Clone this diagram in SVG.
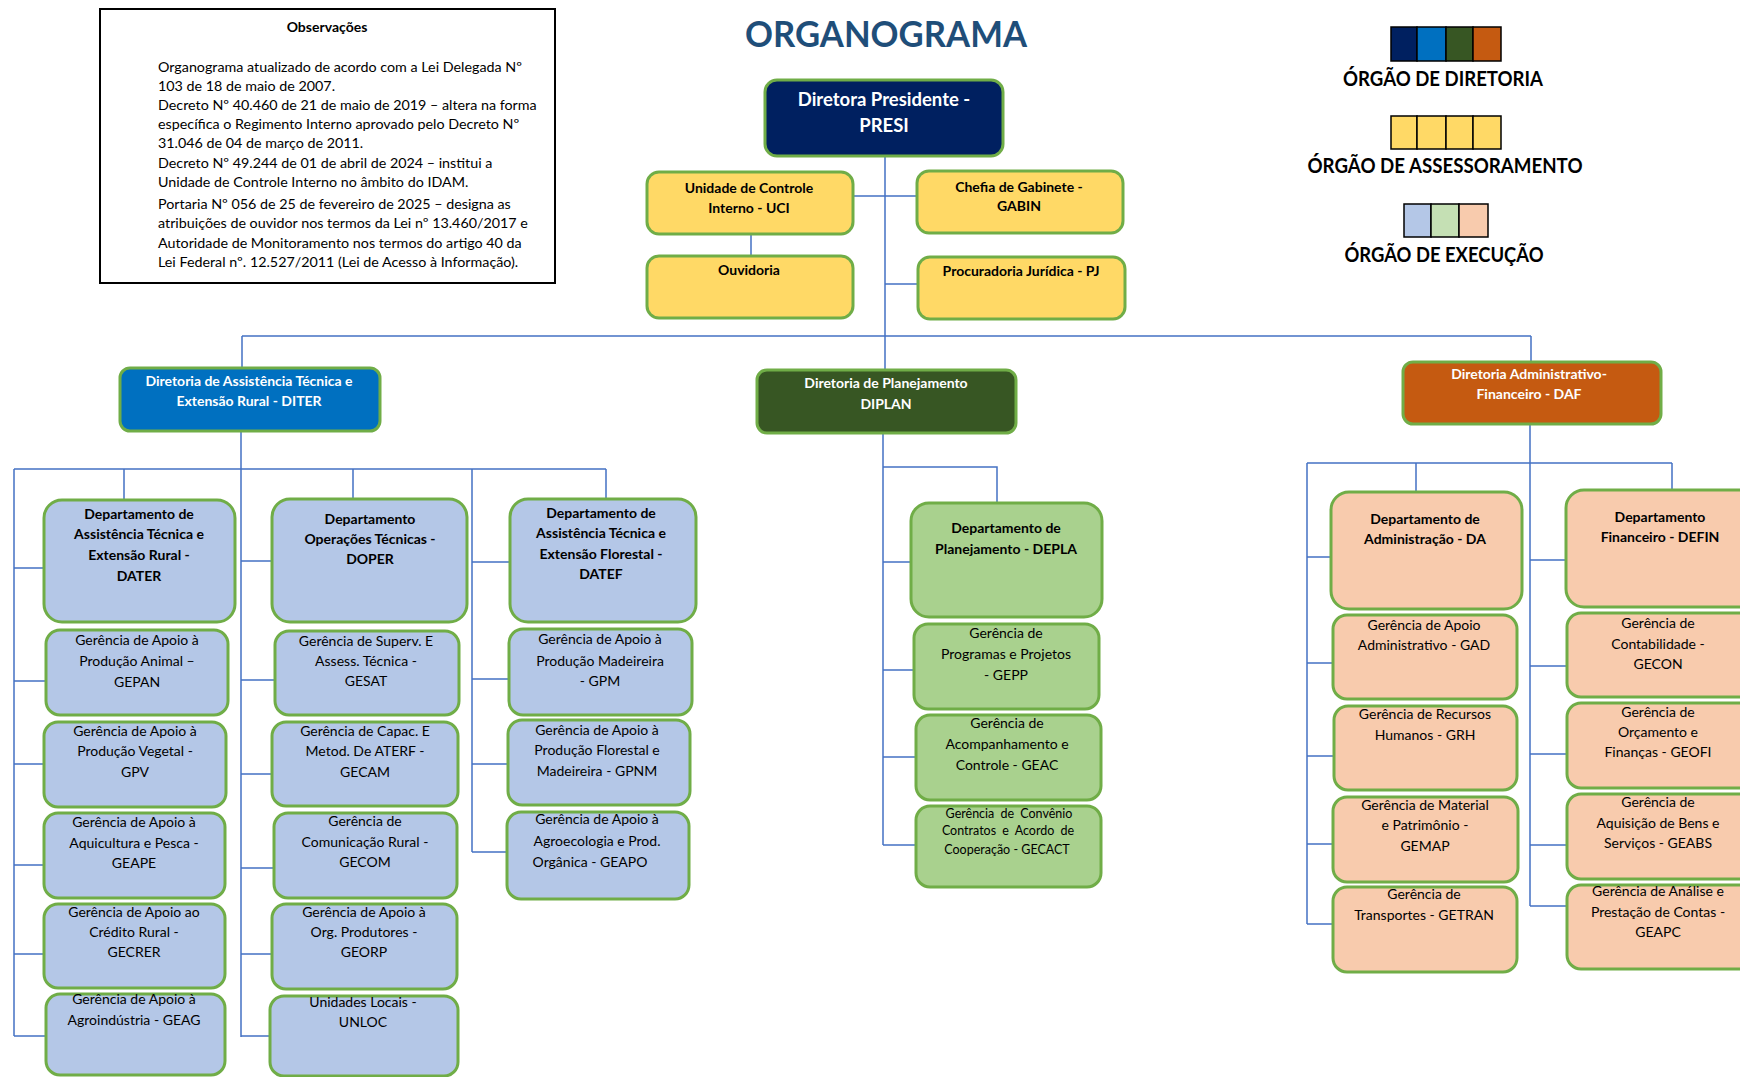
<svg xmlns="http://www.w3.org/2000/svg" width="1740" height="1077" viewBox="0 0 1740 1077">
<style>
.bx{stroke:#70AD47;stroke-width:3}
.y{fill:#FFD966}.b{fill:#B4C7E7}.g{fill:#A9D18E}.p{fill:#F8CBAD}
.t{font-family:Lato,'Liberation Sans',sans-serif;font-size:14px;fill:#000;text-anchor:middle}
.tb{font-family:Lato,'Liberation Sans',sans-serif;font-size:14px;font-weight:bold;fill:#000;text-anchor:middle}
.tw{font-family:Lato,'Liberation Sans',sans-serif;font-size:14px;font-weight:bold;fill:#fff;text-anchor:middle}
.obs{font-family:Lato,'Liberation Sans',sans-serif;font-size:14.3px;fill:#000}
.leg{font-family:Lato,'Liberation Sans',sans-serif;font-size:20px;font-weight:bold;fill:#000;text-anchor:middle}
.sq{stroke:#000;stroke-width:1.5}
.c{stroke:#4472C4;stroke-width:1.5;fill:none}
</style>
<rect width="1740" height="1077" fill="#fff"/>

<g id="observacoes">
<rect x="100" y="9" width="455" height="274" fill="#fff" stroke="#000" stroke-width="2"/>
<text class="tb" x="327" y="32">Observações</text>
<text class="obs">
<tspan x="158" y="72">Organograma atualizado de acordo com a Lei Delegada Nº</tspan>
<tspan x="158" y="91">103 de 18 de maio de 2007.</tspan>
<tspan x="158" y="110">Decreto Nº 40.460 de 21 de maio de 2019 – altera na forma</tspan>
<tspan x="158" y="129">específica o Regimento Interno aprovado pelo Decreto Nº</tspan>
<tspan x="158" y="148">31.046 de 04 de março de 2011.</tspan>
<tspan x="158" y="168">Decreto Nº 49.244 de 01 de abril de 2024 – institui a</tspan>
<tspan x="158" y="187">Unidade de Controle Interno no âmbito do IDAM.</tspan>
<tspan x="158" y="209">Portaria Nº 056 de 25 de fevereiro de 2025 – designa as</tspan>
<tspan x="158" y="228">atribuições de ouvidor nos termos da Lei nº 13.460/2017 e</tspan>
<tspan x="158" y="248">Autoridade de Monitoramento nos termos do artigo 40 da</tspan>
<tspan x="158" y="267">Lei Federal nº. 12.527/2011 (Lei de Acesso à Informação).</tspan>
</text>
</g>

<text id="titulo" x="886" y="47" font-family="Lato,'Liberation Sans',sans-serif" font-size="37" font-weight="bold" fill="#1F4E79" text-anchor="middle" textLength="282" lengthAdjust="spacingAndGlyphs">ORGANOGRAMA</text>

<g id="legenda">
<rect class="sq" x="1391" y="27" width="26" height="34" fill="#002060"/>
<rect class="sq" x="1417" y="27" width="29" height="34" fill="#0070C0"/>
<rect class="sq" x="1446" y="27" width="27" height="34" fill="#375623"/>
<rect class="sq" x="1473" y="27" width="28" height="34" fill="#C55A11"/>
<text class="leg" x="1443" y="86" textLength="200" lengthAdjust="spacingAndGlyphs">ÓRGÃO DE DIRETORIA</text>
<rect class="sq" x="1391" y="116" width="26" height="33" fill="#FFD966"/>
<rect class="sq" x="1417" y="116" width="29" height="33" fill="#FFD966"/>
<rect class="sq" x="1446" y="116" width="27" height="33" fill="#FFD966"/>
<rect class="sq" x="1473" y="116" width="28" height="33" fill="#FFD966"/>
<text class="leg" x="1445" y="173" textLength="275" lengthAdjust="spacingAndGlyphs">ÓRGÃO DE ASSESSORAMENTO</text>
<rect class="sq" x="1404" y="204" width="27" height="33" fill="#B4C7E7"/>
<rect class="sq" x="1431" y="204" width="28" height="33" fill="#C5E0B4"/>
<rect class="sq" x="1459" y="204" width="29" height="33" fill="#F8CBAD"/>
<text class="leg" x="1444" y="262" textLength="199" lengthAdjust="spacingAndGlyphs">ÓRGÃO DE EXECUÇÃO</text>
</g>

<g id="conectores">
<path class="c" d="M885 156V370M853 196H917M751 234V256M885 284H918M242 336H1531M242 336V368M1531 336V362"/>
<path class="c" d="M241 431V1037M14 469H606M14 469V1036M124 469V500M353 469V499M472 469V852M606 469V499"/>
<path class="c" d="M14 568H44M14 681H46M14 764H44M14 865H44M14 954H44M14 1036H46"/>
<path class="c" d="M241 561H272M241 680H275M241 774H272M241 868H274M241 954H272M241 1036H270"/>
<path class="c" d="M472 562H510M472 679H509M472 764H508M472 852H507"/>
<path class="c" d="M883 433V845M883 467H997V503M883 562H911M883 670H914M883 757H916M883 845H916"/>
<path class="c" d="M1530 424V906M1307 463H1672M1416 463V492M1672 463V490M1307 463V924"/>
<path class="c" d="M1307 557H1331M1307 663H1333M1307 756H1334M1307 844H1333M1307 924H1333"/>
<path class="c" d="M1530 560H1566M1530 666H1567M1530 754H1567M1530 845H1567M1530 906H1567"/>
</g>

<g id="presi"><rect class="bx" x="765" y="80" width="238" height="76" rx="12" fill="#002060"/>
<text class="tw" style="font-size:18.5px"><tspan x="884" y="106">Diretora Presidente -</tspan><tspan x="884" y="132">PRESI</tspan></text></g>
<g id="uci"><rect class="bx y" x="647" y="172" width="206" height="62" rx="12"/>
<text class="tb"><tspan x="749" y="193">Unidade de Controle</tspan><tspan x="749" y="213">Interno - UCI</tspan></text></g>
<g id="gabin"><rect class="bx y" x="917" y="171" width="206" height="62" rx="12"/>
<text class="tb"><tspan x="1019" y="192">Chefia de Gabinete -</tspan><tspan x="1019" y="211">GABIN</tspan></text></g>
<g id="ouvidoria"><rect class="bx y" x="647" y="256" width="206" height="62" rx="12"/>
<text class="tb"><tspan x="749" y="275">Ouvidoria</tspan></text></g>
<g id="pj"><rect class="bx y" x="918" y="257" width="207" height="62" rx="12"/>
<text class="tb"><tspan x="1021" y="276">Procuradoria Jurídica - PJ</tspan></text></g>

<g id="diter"><rect class="bx" x="120" y="368" width="260" height="63" rx="10" fill="#0070C0"/>
<text class="tw"><tspan x="249" y="386">Diretoria de Assistência Técnica e</tspan><tspan x="249" y="406">Extensão Rural - DITER</tspan></text></g>
<g id="diplan"><rect class="bx" x="757" y="370" width="259" height="63" rx="10" fill="#375623"/>
<text class="tw"><tspan x="886" y="388">Diretoria de Planejamento</tspan><tspan x="886" y="409">DIPLAN</tspan></text></g>
<g id="daf"><rect class="bx" x="1403" y="362" width="258" height="62" rx="10" fill="#C55A11"/>
<text class="tw"><tspan x="1529" y="379">Diretoria Administrativo-</tspan><tspan x="1529" y="399">Financeiro - DAF</tspan></text></g>

<g id="dater"><rect class="bx b" x="44" y="500" width="191" height="122" rx="18"/>
<text class="tb"><tspan x="139" y="519">Departamento de</tspan><tspan x="139" y="539">Assistência Técnica e</tspan><tspan x="139" y="560">Extensão Rural -</tspan><tspan x="139" y="581">DATER</tspan></text></g>
<g id="doper"><rect class="bx b" x="272" y="499" width="195" height="123" rx="18"/>
<text class="tb"><tspan x="370" y="524">Departamento</tspan><tspan x="370" y="544">Operações Técnicas -</tspan><tspan x="370" y="564">DOPER</tspan></text></g>
<g id="datef"><rect class="bx b" x="510" y="499" width="186" height="123" rx="18"/>
<text class="tb"><tspan x="601" y="518">Departamento de</tspan><tspan x="601" y="538">Assistência Técnica e</tspan><tspan x="601" y="559">Extensão Florestal -</tspan><tspan x="601" y="579">DATEF</tspan></text></g>

<g id="gepan"><rect class="bx b" x="46" y="630" width="182" height="85" rx="14"/>
<text class="t"><tspan x="137" y="645">Gerência de Apoio à</tspan><tspan x="137" y="666">Produção Animal –</tspan><tspan x="137" y="687">GEPAN</tspan></text></g>
<g id="gpv"><rect class="bx b" x="44" y="722" width="182" height="85" rx="14"/>
<text class="t"><tspan x="135" y="736">Gerência de Apoio à</tspan><tspan x="135" y="756">Produção Vegetal -</tspan><tspan x="135" y="777">GPV</tspan></text></g>
<g id="geape"><rect class="bx b" x="44" y="813" width="181" height="85" rx="14"/>
<text class="t"><tspan x="134" y="827">Gerência de Apoio à</tspan><tspan x="134" y="848">Aquicultura e Pesca -</tspan><tspan x="134" y="868">GEAPE</tspan></text></g>
<g id="gecrer"><rect class="bx b" x="44" y="904" width="181" height="84" rx="14"/>
<text class="t"><tspan x="134" y="917">Gerência de Apoio ao</tspan><tspan x="134" y="937">Crédito Rural -</tspan><tspan x="134" y="957">GECRER</tspan></text></g>
<g id="geag"><rect class="bx b" x="46" y="994" width="179" height="81" rx="14"/>
<text class="t"><tspan x="134" y="1004">Gerência de Apoio à</tspan><tspan x="134" y="1025">Agroindústria - GEAG</tspan></text></g>

<g id="gesat"><rect class="bx b" x="275" y="631" width="184" height="84" rx="14"/>
<text class="t"><tspan x="366" y="646">Gerência de Superv. E</tspan><tspan x="366" y="666">Assess. Técnica -</tspan><tspan x="366" y="686">GESAT</tspan></text></g>
<g id="gecam"><rect class="bx b" x="272" y="722" width="186" height="84" rx="14"/>
<text class="t"><tspan x="365" y="736">Gerência de Capac. E</tspan><tspan x="365" y="756">Metod. De ATERF -</tspan><tspan x="365" y="777">GECAM</tspan></text></g>
<g id="gecom"><rect class="bx b" x="274" y="813" width="183" height="85" rx="14"/>
<text class="t"><tspan x="365" y="826">Gerência de</tspan><tspan x="365" y="847">Comunicação Rural -</tspan><tspan x="365" y="867">GECOM</tspan></text></g>
<g id="georp"><rect class="bx b" x="272" y="904" width="185" height="85" rx="14"/>
<text class="t"><tspan x="364" y="917">Gerência de Apoio à</tspan><tspan x="364" y="937">Org. Produtores -</tspan><tspan x="364" y="957">GEORP</tspan></text></g>
<g id="unloc"><rect class="bx b" x="270" y="996" width="188" height="80" rx="14"/>
<text class="t"><tspan x="363" y="1007">Unidades Locais -</tspan><tspan x="363" y="1027">UNLOC</tspan></text></g>

<g id="gpm"><rect class="bx b" x="509" y="629" width="183" height="86" rx="14"/>
<text class="t"><tspan x="600" y="644">Gerência de Apoio à</tspan><tspan x="600" y="666">Produção Madeireira</tspan><tspan x="600" y="686">- GPM</tspan></text></g>
<g id="gpnm"><rect class="bx b" x="508" y="720" width="182" height="85" rx="14"/>
<text class="t"><tspan x="597" y="735">Gerência de Apoio à</tspan><tspan x="597" y="755">Produção Florestal e</tspan><tspan x="597" y="776">Madeireira - GPNM</tspan></text></g>
<g id="geapo"><rect class="bx b" x="507" y="812" width="182" height="87" rx="14"/>
<text class="t"><tspan x="597" y="824">Gerência de Apoio à</tspan><tspan x="597" y="846">Agroecologia e Prod.</tspan><tspan x="590" y="867">Orgânica - GEAPO</tspan></text></g>

<g id="depla"><rect class="bx g" x="911" y="503" width="191" height="114" rx="18"/>
<text class="tb"><tspan x="1006" y="533">Departamento de</tspan><tspan x="1006" y="554">Planejamento - DEPLA</tspan></text></g>
<g id="gepp"><rect class="bx g" x="914" y="624" width="185" height="85" rx="14"/>
<text class="t"><tspan x="1006" y="638">Gerência de</tspan><tspan x="1006" y="659">Programas e Projetos</tspan><tspan x="1006" y="680">- GEPP</tspan></text></g>
<g id="geac"><rect class="bx g" x="916" y="715" width="185" height="85" rx="14"/>
<text class="t"><tspan x="1007" y="728">Gerência de</tspan><tspan x="1007" y="749">Acompanhamento e</tspan><tspan x="1007" y="770">Controle - GEAC</tspan></text></g>
<g id="gecact"><rect class="bx g" x="916" y="806" width="185" height="81" rx="14"/>
<text class="t" style="font-size:12.5px"><tspan x="1009" y="818" word-spacing="3">Gerência de Convênio</tspan><tspan x="1008" y="835" word-spacing="3">Contratos e Acordo de</tspan><tspan x="1007" y="854">Cooperação - GECACT</tspan></text></g>

<g id="da"><rect class="bx p" x="1331" y="492" width="191" height="117" rx="18"/>
<text class="tb"><tspan x="1425" y="524">Departamento de</tspan><tspan x="1425" y="544">Administração - DA</tspan></text></g>
<g id="defin"><rect class="bx p" x="1566" y="490" width="190" height="117" rx="18"/>
<text class="tb"><tspan x="1660" y="522">Departamento</tspan><tspan x="1660" y="542">Financeiro - DEFIN</tspan></text></g>
<g id="gad"><rect class="bx p" x="1333" y="615" width="184" height="84" rx="14"/>
<text class="t"><tspan x="1424" y="630">Gerência de Apoio</tspan><tspan x="1424" y="650">Administrativo - GAD</tspan></text></g>
<g id="grh"><rect class="bx p" x="1334" y="706" width="183" height="84" rx="14"/>
<text class="t"><tspan x="1425" y="719">Gerência de Recursos</tspan><tspan x="1425" y="740">Humanos - GRH</tspan></text></g>
<g id="gemap"><rect class="bx p" x="1333" y="797" width="185" height="85" rx="14"/>
<text class="t"><tspan x="1425" y="810">Gerência de Material</tspan><tspan x="1425" y="830">e Patrimônio -</tspan><tspan x="1425" y="851">GEMAP</tspan></text></g>
<g id="getran"><rect class="bx p" x="1333" y="887" width="184" height="85" rx="14"/>
<text class="t"><tspan x="1424" y="899">Gerência de</tspan><tspan x="1424" y="920">Transportes - GETRAN</tspan></text></g>
<g id="gecon"><rect class="bx p" x="1567" y="613" width="190" height="84" rx="14"/>
<text class="t"><tspan x="1658" y="628">Gerência de</tspan><tspan x="1658" y="649">Contabilidade -</tspan><tspan x="1658" y="669">GECON</tspan></text></g>
<g id="geofi"><rect class="bx p" x="1567" y="703" width="190" height="85" rx="14"/>
<text class="t"><tspan x="1658" y="717">Gerência de</tspan><tspan x="1658" y="737">Orçamento e</tspan><tspan x="1658" y="757">Finanças - GEOFI</tspan></text></g>
<g id="geabs"><rect class="bx p" x="1567" y="794" width="190" height="85" rx="14"/>
<text class="t"><tspan x="1658" y="807">Gerência de</tspan><tspan x="1658" y="828">Aquisição de Bens e</tspan><tspan x="1658" y="848">Serviços - GEABS</tspan></text></g>
<g id="geapc"><rect class="bx p" x="1567" y="885" width="190" height="84" rx="14"/>
<text class="t"><tspan x="1658" y="896">Gerência de Análise e</tspan><tspan x="1658" y="917">Prestação de Contas -</tspan><tspan x="1658" y="937">GEAPC</tspan></text></g>
</svg>
